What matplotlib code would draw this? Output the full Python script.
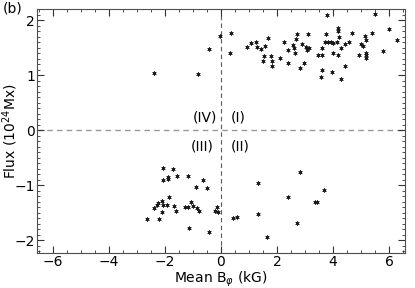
import matplotlib
matplotlib.use("Agg")
import matplotlib.pyplot as plt
from matplotlib.ticker import MultipleLocator

# Quadrant I / IV (positive flux)
bphi_pos = [-2.39, -0.81, -0.43, -0.04, 0.32, 0.36, 0.92, 1.06, 1.25, 1.27, 1.42, 1.58,
            1.69, 1.55, 1.51, 1.77, 1.81, 1.81, 2.11, 2.26, 2.40, 2.56, 2.62, 2.64,
            2.40, 2.70, 2.68, 2.82, 2.98, 2.88, 3.04, 3.08, 3.12, 3.15, 3.48, 3.60,
            3.62, 3.62, 3.57, 3.75, 3.77, 3.71, 3.83, 3.92, 4.01, 4.13, 4.17, 4.19,
            4.23, 4.01, 3.96, 4.29, 4.17, 4.27, 4.43, 4.43, 4.58, 4.67, 4.94, 5.00,
            5.08, 5.14, 5.17, 5.17, 5.18, 5.17, 5.38, 5.50, 5.77, 6.01, 6.27]
flux_pos = [1.05, 1.02, 1.48, 1.71, 1.41, 1.78, 1.52, 1.59, 1.61, 1.52, 1.48, 1.54,
            1.68, 1.35, 1.26, 1.35, 1.26, 1.17, 1.32, 1.60, 1.46, 1.55, 1.49, 1.41,
            1.23, 1.75, 1.67, 1.13, 1.23, 1.57, 1.51, 1.47, 1.76, 1.49, 1.38, 1.49,
            1.37, 1.10, 0.97, 1.76, 2.10, 1.61, 1.60, 1.61, 1.59, 1.61, 1.87, 1.80,
            1.69, 1.41, 1.06, 0.93, 1.37, 1.49, 1.57, 1.18, 1.60, 1.77, 1.38, 1.57,
            1.54, 1.71, 1.64, 1.41, 1.37, 1.32, 1.78, 2.12, 1.44, 1.84, 1.64]

# Quadrant II / III (negative flux)
bphi_neg = [-2.08, -1.73, -1.88, -1.88, -2.06, -1.58, -1.17, -0.63, -0.89, -0.51,
            -1.85, -2.24, -2.12, -2.06, -2.30, -1.94, -2.38, -2.12, -1.67, -1.61,
            -1.29, -1.17, -1.08, -1.01, -0.85, -0.77, -2.65, -2.20, -1.13, -0.43,
            -0.15, -0.21, -0.10, 0.44, 0.58, 1.33, 1.31, 1.63, 2.40, 2.82, 2.73,
            3.36, 3.44, 3.68]
flux_neg = [-0.69, -0.71, -0.85, -0.89, -0.91, -0.84, -0.84, -0.90, -1.04, -1.05,
            -1.22, -1.32, -1.29, -1.36, -1.36, -1.35, -1.42, -1.48, -1.38, -1.46,
            -1.40, -1.40, -1.30, -1.37, -1.42, -1.46, -1.62, -1.62, -1.78, -1.85,
            -1.39, -1.47, -1.48, -1.60, -1.58, -0.95, -1.53, -1.94, -1.22, -0.75,
            -1.69, -1.31, -1.31, -1.08]

quadrant_labels = ["(IV)", "(I)", "(III)", "(II)"]

fig = plt.figure(figsize=(4.15, 2.88), dpi=100)
ax = fig.add_axes([0.089, 0.122, 0.887, 0.847])

ax.axvline(0, color="0.35", ls=(0, (4, 3)), lw=0.8, zorder=1)
ax.axhline(0, color="0.6", ls=(0, (4, 3)), lw=1.0, zorder=1)

star = (6, 2, 0)
ax.plot(bphi_pos, flux_pos, ls="none", marker=star, ms=3.0, mew=0.5, color="0.1", zorder=3)
ax.plot(bphi_neg, flux_neg, ls="none", marker=star, ms=3.0, mew=0.5, color="0.1", zorder=3)

ax.set_xlim(-6.57, 6.57)
ax.set_ylim(-2.23, 2.21)
ax.xaxis.set_major_locator(MultipleLocator(2))
ax.xaxis.set_minor_locator(MultipleLocator(0.5))
ax.yaxis.set_major_locator(MultipleLocator(1))
ax.yaxis.set_minor_locator(MultipleLocator(0.1))
ax.tick_params(which="both", direction="in", top=True, right=True, labelsize=10,
               color="0.2", pad=1.5)
ax.tick_params(which="major", length=5, width=0.8)
ax.tick_params(which="minor", length=2.5, width=0.6)
for s in ax.spines.values():
    s.set_color("0.3")
    s.set_linewidth(0.8)

ax.set_xlabel(r"Mean B$_\varphi$ (kG)", fontsize=10, labelpad=0)
ax.set_ylabel(r"Flux (10$^{24}$Mx)", fontsize=10, labelpad=0)
ax.yaxis.set_label_coords(-0.047, 0.5)
ax.xaxis.set_label_coords(0.5, -0.07)

ax.text(-0.57, 0.23, quadrant_labels[0], ha="center", va="center", fontsize=10)
ax.text(0.62, 0.23, quadrant_labels[1], ha="center", va="center", fontsize=10)
ax.text(-0.68, -0.29, quadrant_labels[2], ha="center", va="center", fontsize=10)
ax.text(0.68, -0.29, quadrant_labels[3], ha="center", va="center", fontsize=10)

fig.text(0.006, 0.995, "(b)", ha="left", va="top", fontsize=10)

fig.savefig("out.png", dpi=100)
